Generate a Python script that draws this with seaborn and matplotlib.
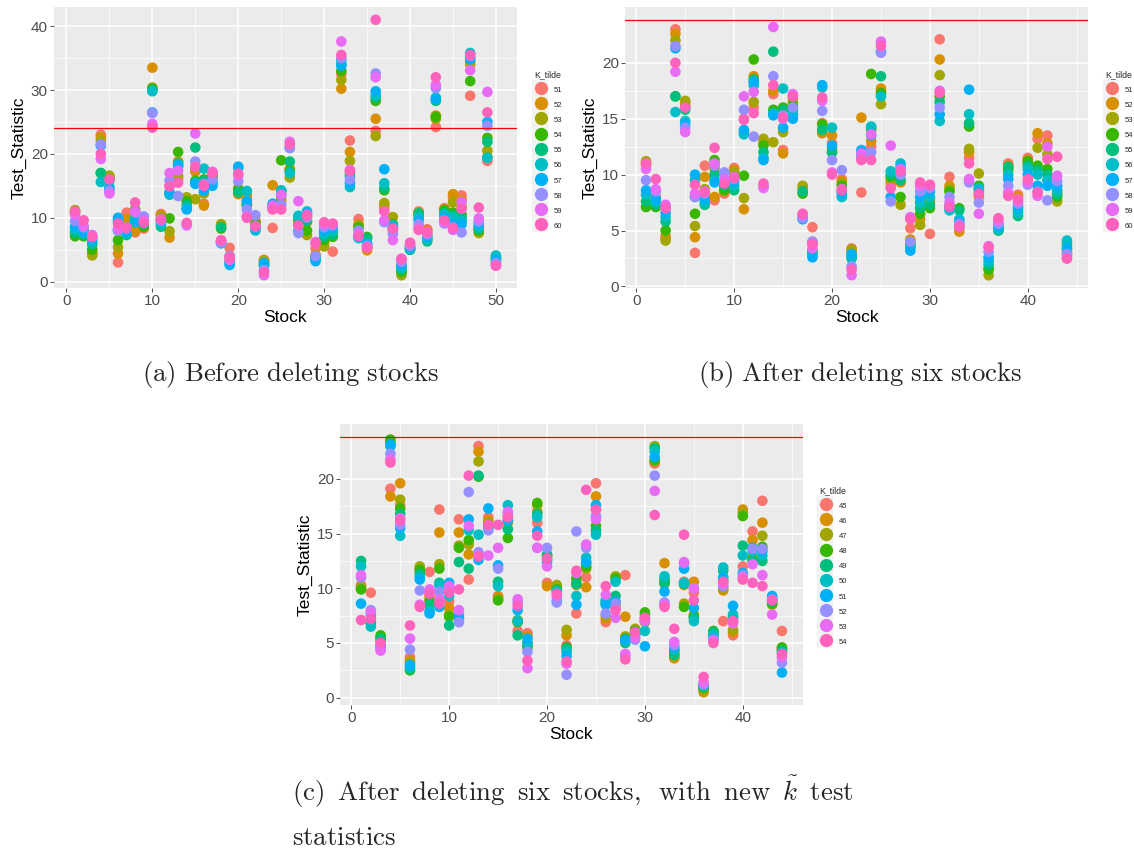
import numpy as np
import pandas as pd
import matplotlib
matplotlib.use('Agg')
import matplotlib.pyplot as plt
from matplotlib.patches import Rectangle
import seaborn as sns

# ---- data: test statistic per stock (index 0 = stock 1), one list per K_tilde ----
k_before = [51, 52, 53, 54, 55, 56, 57, 58, 59, 60]
ts_51 = [10.8, 8.0, 4.5, 23.0, 16.2, 3.0, 10.8, 7.7, 8.3, 24.3,
         10.6, 15.0, 16.0, 12.8, 17.2, 12.2, 17.0, 6.3, 5.3, 14.6,
         12.8, 9.6, 3.4, 8.4, 12.5, 17.5, 9.0, 10.0, 5.2, 7.5,
         4.7, 32.5, 22.1, 9.8, 5.2, 23.6, 11.5, 8.0, 2.5, 5.6,
         11.0, 8.2, 24.2, 11.5, 13.2, 13.5, 29.1, 8.5, 18.9, 2.8]
ts_52 = [11.0, 7.8, 4.3, 22.6, 16.4, 4.4, 9.8, 8.0, 8.5, 33.5,
         10.4, 6.9, 18.8, 13.0, 17.5, 11.9, 16.8, 8.8, 4.0, 13.7,
         13.5, 9.4, 3.2, 15.1, 13.0, 17.7, 9.3, 9.3, 4.2, 6.0,
         7.5, 30.2, 20.3, 9.0, 4.9, 25.5, 12.0, 8.2, 1.6, 5.4,
         10.8, 8.0, 26.0, 11.3, 13.7, 12.8, 34.0, 8.3, 19.5, 3.0]
ts_53 = [11.2, 7.5, 4.1, 22.0, 16.6, 5.4, 8.7, 10.5, 8.8, 30.4,
         10.2, 7.9, 16.5, 13.2, 12.9, 13.8, 16.5, 9.0, 3.8, 14.0,
         12.3, 9.2, 3.3, 11.8, 14.0, 16.3, 9.6, 7.3, 4.0, 5.5,
         7.8, 31.6, 18.9, 8.7, 5.5, 22.8, 12.3, 10.1, 1.0, 5.2,
         10.6, 7.2, 25.5, 11.0, 12.4, 11.8, 34.4, 7.6, 20.5, 3.3]
ts_54 = [7.1, 7.1, 5.0, 17.0, 16.0, 6.5, 8.0, 11.3, 8.6, 30.2,
         9.8, 9.9, 20.3, 12.6, 15.8, 16.0, 16.2, 8.3, 3.2, 14.5,
         12.0, 9.0, 2.8, 11.5, 19.0, 17.3, 9.8, 8.0, 3.8, 6.5,
         7.0, 33.0, 17.0, 8.5, 7.0, 28.3, 14.3, 9.0, 1.5, 5.0,
         10.4, 6.8, 25.8, 11.2, 10.8, 10.5, 31.4, 8.0, 22.5, 3.6]
ts_55 = [7.6, 7.3, 5.8, 17.0, 15.8, 8.0, 7.3, 10.0, 9.0, 30.0,
         8.6, 13.8, 18.5, 12.0, 21.0, 15.8, 15.8, 8.5, 3.0, 14.0,
         12.0, 8.5, 2.5, 11.8, 14.2, 18.8, 10.0, 9.5, 3.6, 7.0,
         7.3, 34.0, 16.5, 7.2, 6.8, 28.8, 14.6, 8.7, 1.9, 5.0,
         10.7, 6.3, 28.3, 10.8, 10.4, 10.0, 35.0, 8.2, 21.9, 3.9]
ts_56 = [8.2, 7.6, 6.2, 15.6, 14.8, 9.5, 7.5, 9.5, 9.3, 29.8,
         9.0, 13.6, 18.0, 11.5, 15.5, 17.7, 15.4, 6.2, 2.8, 17.8,
         14.2, 8.0, 2.6, 12.0, 14.3, 17.0, 10.3, 11.0, 3.5, 7.5,
         8.0, 34.6, 14.8, 6.8, 6.0, 29.2, 15.4, 8.8, 2.2, 5.1,
         10.0, 6.6, 28.8, 10.5, 10.0, 9.5, 35.8, 8.6, 19.4, 4.1]
ts_57 = [8.6, 7.8, 6.6, 21.3, 14.5, 10.0, 7.8, 9.3, 9.5, 26.5,
         9.4, 14.0, 18.3, 11.3, 15.3, 14.2, 15.0, 6.0, 2.6, 18.0,
         12.6, 8.3, 2.9, 12.2, 13.5, 21.0, 8.0, 10.7, 3.2, 8.0,
         8.5, 33.8, 15.4, 7.0, 5.8, 29.8, 17.6, 8.5, 2.6, 5.3,
         9.6, 7.0, 28.6, 10.0, 9.0, 9.0, 34.8, 9.0, 25.0, 3.4]
ts_58 = [9.5, 8.5, 7.0, 21.5, 14.2, 8.0, 8.3, 10.8, 10.2, 26.4,
         9.6, 15.8, 13.4, 9.0, 18.8, 15.3, 16.0, 6.1, 4.0, 15.7,
         11.3, 10.4, 1.8, 11.6, 12.0, 20.9, 7.6, 10.0, 4.0, 8.5,
         8.8, 35.0, 16.0, 8.0, 5.6, 32.6, 9.3, 7.5, 3.1, 5.6,
         9.0, 7.4, 30.3, 9.1, 8.5, 7.7, 35.3, 9.4, 24.4, 2.9]
ts_59 = [10.5, 8.7, 7.3, 19.2, 13.8, 8.3, 8.5, 11.0, 9.6, 24.7,
         9.8, 17.0, 17.4, 8.8, 23.2, 15.0, 17.2, 6.4, 3.4, 16.6,
         10.2, 8.7, 1.0, 11.9, 13.6, 21.9, 12.6, 10.5, 6.2, 9.0,
         9.0, 37.6, 17.5, 7.5, 5.4, 32.0, 9.6, 6.5, 3.6, 5.9,
         8.4, 7.6, 30.8, 9.3, 8.1, 12.5, 33.1, 9.9, 29.7, 2.5]
ts_60 = [11.0, 9.6, 7.0, 20.0, 16.0, 9.1, 8.4, 12.4, 9.2, 24.1,
         9.7, 14.9, 15.5, 9.2, 18.0, 15.1, 17.0, 6.5, 3.8, 16.9,
         10.0, 8.6, 1.5, 11.3, 11.3, 21.5, 8.8, 10.3, 6.0, 9.3,
         9.1, 35.5, 17.3, 7.1, 5.3, 41.0, 11.0, 8.3, 3.5, 6.1,
         8.1, 7.8, 32.0, 9.6, 8.4, 11.4, 35.5, 11.6, 26.5, 2.5]
before_series = [ts_51, ts_52, ts_53, ts_54, ts_55, ts_56, ts_57, ts_58, ts_59, ts_60]
deleted_stocks = [10, 32, 36, 43, 47, 49]

k_new = [45, 46, 47, 48, 49, 50, 51, 52, 53, 54]
new_45 = [10.3, 9.6, 5.1, 19.1, 17.6, 3.7, 11.8, 11.5, 17.2, 8.8,
          16.3, 10.8, 23.0, 16.5, 9.3, 16.3, 6.1, 5.9, 16.0, 10.5,
          10.1, 4.8, 7.7, 11.0, 19.6, 6.9, 8.2, 11.2, 5.8, 7.0,
          21.4, 10.6, 4.3, 10.6, 9.6, 0.8, 5.8, 7.0, 5.7, 12.0,
          15.2, 18.0, 8.9, 6.1]
new_46 = [10.0, 7.3, 5.3, 18.4, 19.6, 3.4, 11.5, 9.3, 15.1, 8.2,
          15.1, 13.1, 22.5, 16.2, 9.2, 16.6, 7.0, 5.6, 17.0, 10.2,
          10.0, 5.7, 10.3, 10.1, 18.4, 7.2, 8.5, 7.4, 6.0, 6.9,
          21.6, 12.3, 3.6, 10.3, 10.6, 0.5, 5.9, 9.8, 6.0, 17.2,
          14.4, 16.0, 8.7, 4.5]
new_47 = [10.1, 7.0, 5.5, 23.4, 18.1, 3.2, 12.0, 9.0, 12.2, 7.6,
          13.9, 14.0, 21.6, 16.0, 9.0, 16.0, 7.1, 5.0, 17.6, 13.0,
          10.3, 6.2, 10.5, 11.8, 17.2, 7.5, 11.1, 5.6, 6.3, 7.6,
          23.0, 10.4, 3.8, 8.6, 7.6, 0.7, 6.0, 10.0, 6.2, 16.9,
          12.8, 14.8, 8.5, 4.4]
new_48 = [9.9, 6.8, 5.7, 23.6, 17.3, 2.5, 11.7, 8.8, 11.8, 7.4,
          13.7, 14.4, 20.2, 15.8, 8.9, 14.6, 6.9, 4.6, 17.8, 12.9,
          9.9, 4.6, 10.9, 12.0, 15.7, 8.6, 10.9, 5.4, 6.1, 7.8,
          21.7, 10.8, 4.1, 8.3, 7.4, 0.9, 6.1, 10.7, 7.3, 16.6,
          12.6, 13.8, 8.6, 4.6]
new_49 = [12.5, 6.9, 5.4, 23.2, 16.8, 2.6, 11.3, 8.5, 10.5, 6.6,
          12.4, 11.8, 20.3, 15.6, 10.6, 15.4, 5.7, 4.8, 16.8, 13.1,
          9.8, 4.5, 10.4, 12.3, 15.3, 8.8, 9.3, 5.0, 6.0, 7.3,
          22.8, 10.5, 3.9, 10.4, 7.3, 1.0, 6.0, 11.6, 7.4, 13.9,
          12.5, 12.5, 8.8, 4.3]
new_50 = [12.0, 6.5, 4.8, 23.0, 14.8, 2.8, 11.0, 7.9, 10.3, 9.3,
          7.5, 15.3, 14.9, 15.5, 10.2, 17.6, 7.0, 5.0, 16.5, 12.6,
          9.7, 4.2, 9.3, 12.8, 14.9, 8.9, 10.6, 5.2, 5.9, 6.1,
          22.5, 11.1, 4.4, 10.5, 7.0, 1.1, 5.7, 11.9, 7.6, 13.0,
          13.4, 13.0, 9.1, 4.1]
new_51 = [8.6, 7.6, 4.6, 23.1, 15.5, 3.0, 10.8, 7.7, 8.3, 10.5,
          7.3, 16.3, 12.6, 17.3, 12.1, 16.2, 8.0, 5.4, 15.2, 12.4,
          8.9, 3.8, 8.5, 12.4, 17.6, 8.5, 8.8, 5.3, 5.7, 4.7,
          22.0, 9.7, 4.6, 11.8, 8.2, 1.2, 5.4, 11.0, 8.4, 11.4,
          13.7, 13.4, 9.3, 2.3]
new_52 = [11.0, 8.0, 4.4, 22.3, 15.8, 4.4, 9.8, 9.6, 9.7, 10.0,
          6.9, 18.8, 13.3, 15.3, 11.8, 16.8, 8.7, 4.2, 13.7, 13.7,
          8.7, 2.1, 15.2, 13.7, 16.6, 7.7, 8.6, 3.8, 5.3, 7.0,
          20.3, 8.7, 4.8, 12.3, 10.0, 1.2, 5.3, 10.2, 7.0, 11.2,
          13.6, 13.6, 9.0, 3.2]
new_53 = [11.2, 7.8, 4.3, 21.8, 16.4, 5.4, 8.5, 9.9, 9.0, 10.2,
          8.0, 15.7, 13.0, 13.0, 13.7, 17.0, 9.0, 2.7, 13.7, 12.0,
          9.3, 3.1, 11.4, 14.0, 16.3, 9.4, 7.3, 4.0, 5.5, 7.1,
          18.9, 8.5, 5.1, 12.4, 10.0, 1.4, 5.2, 10.4, 6.8, 11.0,
          12.2, 11.2, 7.6, 3.7]
new_54 = [7.1, 7.2, 5.0, 21.5, 16.2, 6.6, 8.3, 9.5, 8.6, 9.6,
          9.9, 20.3, 12.9, 15.8, 15.8, 16.5, 8.4, 3.4, 14.8, 12.7,
          9.5, 3.3, 11.6, 19.0, 17.2, 10.2, 8.0, 3.5, 6.0, 7.3,
          16.7, 8.3, 6.3, 14.9, 8.9, 1.9, 5.0, 10.6, 7.0, 10.8,
          10.5, 10.2, 8.9, 4.0]
new_series = [new_45, new_46, new_47, new_48, new_49, new_50, new_51, new_52, new_53, new_54]

crit_before = 24.1
crit_after = 23.85

hue_cols = ['#F8766D', '#D89000', '#A3A500', '#39B600', '#00BF7D',
            '#00BFC4', '#00B0F6', '#9590FF', '#E76BF3', '#FF62BC']


def long_frame(series, ks):
    rows = []
    for k, vals in zip(ks, series):
        for i, v in enumerate(vals):
            rows.append((i + 1, v, str(k)))
    return pd.DataFrame(rows, columns=['Stock', 'Test_Statistic', 'K_tilde'])


df_a = long_frame(before_series, k_before)
df_b = df_a[~df_a['Stock'].isin(deleted_stocks)].copy()
keep = [s for s in range(1, 51) if s not in deleted_stocks]
df_b['Stock'] = df_b['Stock'].map({s: i + 1 for i, s in enumerate(keep)})
df_c = long_frame(new_series, k_new)

sns.set_style('darkgrid', {'axes.facecolor': '#EBEBEB'})
plt.rcParams['font.family'] = ['Liberation Sans', 'DejaVu Sans']
plt.rcParams['mathtext.fontset'] = 'cm'

W, H = 1134, 850
fig = plt.figure(figsize=(W / 100, H / 100), dpi=100)


def fx(px):
    return px / W


def fy(py):
    return 1 - py / H


def panel(df, ks, crit, rect, yticks, ystep, leg_xy, box):
    ax = fig.add_axes(rect)
    order = [str(k) for k in ks]
    sns.scatterplot(data=df, x='Stock', y='Test_Statistic', hue='K_tilde',
                    hue_order=order, palette=hue_cols, s=58, linewidth=0,
                    alpha=1, ax=ax)
    ax.axhline(crit, color='#FF0000', lw=0.9, zorder=3)
    n = df['Stock'].max()
    ax.set_xlim(1 - 0.05 * (n - 1), n + 0.05 * (n - 1))
    lo = min(df['Test_Statistic'].min(), crit)
    hi = max(df['Test_Statistic'].max(), crit)
    ax.set_ylim(lo - 0.05 * (hi - lo), hi + 0.05 * (hi - lo))
    ax.set_xticks(np.arange(0, n + 1, 10))
    ax.set_xticks(np.arange(5, n + 3, 10), minor=True)
    ax.set_yticks(yticks)
    ax.set_yticks(np.array(yticks[:-1]) + ystep / 2, minor=True)
    ax.grid(which='major', color='white', lw=1.1)
    ax.grid(which='minor', color='white', lw=0.5)
    for sp in ax.spines.values():
        sp.set_visible(False)
    ax.tick_params(which='major', length=3, width=0.6, color='#333333',
                   labelcolor='#4D4D4D', labelsize=11, pad=1.5,
                   bottom=True, left=True)
    ax.tick_params(which='minor', length=0)
    ax.set_xlabel('Stock', fontsize=12.5, labelpad=1, color='black')
    ax.set_ylabel('Test_Statistic', fontsize=12.5, labelpad=3, color='black')
    sns.move_legend(ax, 'upper left', bbox_to_anchor=(fx(leg_xy[0]), fy(leg_xy[1])),
                    bbox_transform=fig.transFigure, frameon=False,
                    title='K_tilde', fontsize=5.5, title_fontsize=6.3,
                    borderpad=0, handlelength=1.8, handleheight=1.5,
                    handletextpad=0.8, labelspacing=0.76, markerscale=1.25,
                    alignment='left')
    x0, y0, x1, y1 = box
    fig.patches.append(Rectangle((fx(x0), fy(y1)), fx(x1 - x0), (y1 - y0) / H,
                                 transform=fig.transFigure, color='#F2F2F2',
                                 zorder=-1))
    return ax


panel(df_a, k_before, crit_before,
      [fx(54), fy(288), fx(463), 281 / H], [0, 10, 20, 30, 40], 10,
      (530, 66), (532, 80, 547, 231))
panel(df_b, k_before, crit_after,
      [fx(625), fy(288), fx(463), 281 / H], [0, 5, 10, 15, 20], 5,
      (1101, 66), (1103, 80, 1118, 231))
panel(df_c, k_new, crit_after,
      [fx(340), fy(705), fx(463), 281 / H], [0, 5, 10, 15, 20], 5,
      (815, 482), (817, 496, 832, 647))

cap = 19.3
fig.text(fx(290), fy(375), r'$\mathrm{(a)\ Before\ deleting\ stocks}$',
         ha='center', va='center', fontsize=cap)
fig.text(fx(860), fy(375), r'$\mathrm{(b)\ After\ deleting\ six\ stocks}$',
         ha='center', va='center', fontsize=cap)
fig.text(fx(292), fy(792),
         r'$\mathrm{(c)\ \:After\ \:deleting\ \:six\ \:stocks,\ \:with\ \:new}\ \:\tilde{k}\ \:\mathrm{test}$',
         ha='left', va='center', fontsize=cap)
fig.text(fx(292), fy(838), r'$\mathrm{statistics}$', ha='left', va='center', fontsize=cap)

fig.savefig('out.png', dpi=100)
